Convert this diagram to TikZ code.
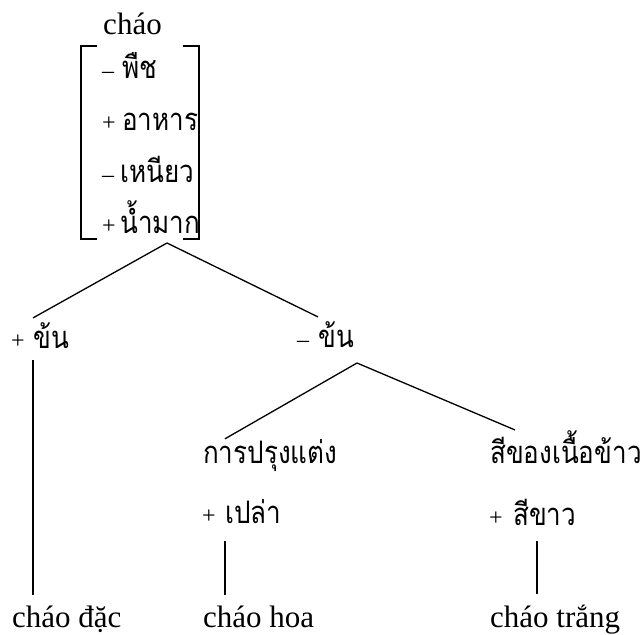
\documentclass[tikz,border=0pt]{standalone}
\usepackage{fontspec}
\setmainfont{Liberation Serif}
\newfontfamily\thai[Script=Thai,FakeStretch=0.84]{Loma}
\usetikzlibrary{positioning}

\tikzset{
  lat/.style={font=\fontsize{31}{36}\selectfont, inner sep=0pt},
  thw/.style={font=\thai\fontsize{31}{36}\selectfont, inner sep=0pt},
  sgn/.style={font=\fontsize{24}{28}\selectfont, inner sep=0pt},
  edge/.style={line width=1.3pt},
  brk/.style={line width=1.5pt},
}

\begin{document}
\begin{tikzpicture}[x=1pt,y=-1pt]
\useasboundingbox (0,0) rectangle (644,634);

%% racine + matrice de traits
\node[lat,anchor=base] (chao) at (132.5,35) {cháo};
\foreach \f/\s/\y/\x/\w in {f1/--/78/122/พืช, f2/+/130/122/อาหาร,
    f3/--/182/120/เหนียว, f4/+/233/120/น้ำมาก}{
  \node[thw,anchor=base west] (\f) at (\x,\y) {\w};
  \node[sgn,anchor=base west] (\f s) at (102,\y) {\s};
}
\draw[brk] (97,46) -| (81,239) -- (97,239);
\draw[brk] (183,46) -| (199,239) -- (183,239);
\coordinate (j0) at (167,243);

%% niveau 2
\node[thw,anchor=base west] (khonP) at (33,348) {ข้น};
\node[sgn,anchor=base west] (khonPs) at (11,348) {+};
\node[thw,anchor=base west] (khonM) at (318,347) {ข้น};
\node[sgn,anchor=base west] (khonMs) at (297,347) {--};
\draw[edge] (j0) -- ([yshift=4pt]khonP.north west);
\draw[edge] (j0) -- ([yshift=4pt]khonM.north west);
\coordinate (j1) at (357,363);

%% niveau 3
\node[thw,anchor=base west] (cook) at (203,463) {การปรุงแต่ง};
\node[thw,anchor=base west] (grain) at (490,463) {สีของเนื้อข้าว};
\draw[edge] (j1) -- ([xshift=22pt]cook.north west);
\draw[edge] (j1) -- ([xshift=25pt]grain.north west);
\node[thw,anchor=base west] (plain) at (225,523) {เปล่า};
\node[sgn,anchor=base west] (plains) at (202,523) {+};
\node[thw,anchor=base west] (white) at (513,525) {สีขาว};
\node[sgn,anchor=base west] (whites) at (489,525) {+};

%% feuilles
\node[lat,anchor=base west] (dac) at (12,627) {cháo đặc};
\node[lat,anchor=base west] (hoa) at (203,627) {cháo hoa};
\node[lat,anchor=base west] (trang) at (490,627) {cháo trắng};
\draw[edge] ([yshift=-12pt]khonP.south west) -- ([yshift=10pt]khonP.west |- dac.north);
\draw[edge] ([yshift=-18pt]plain.south west) -- ([yshift=10pt]plain.west |- hoa.north);
\draw[edge] ([xshift=24pt,yshift=-16pt]white.south west) -- ([xshift=24pt,yshift=10pt]white.west |- trang.north);
\end{tikzpicture}
\end{document}
